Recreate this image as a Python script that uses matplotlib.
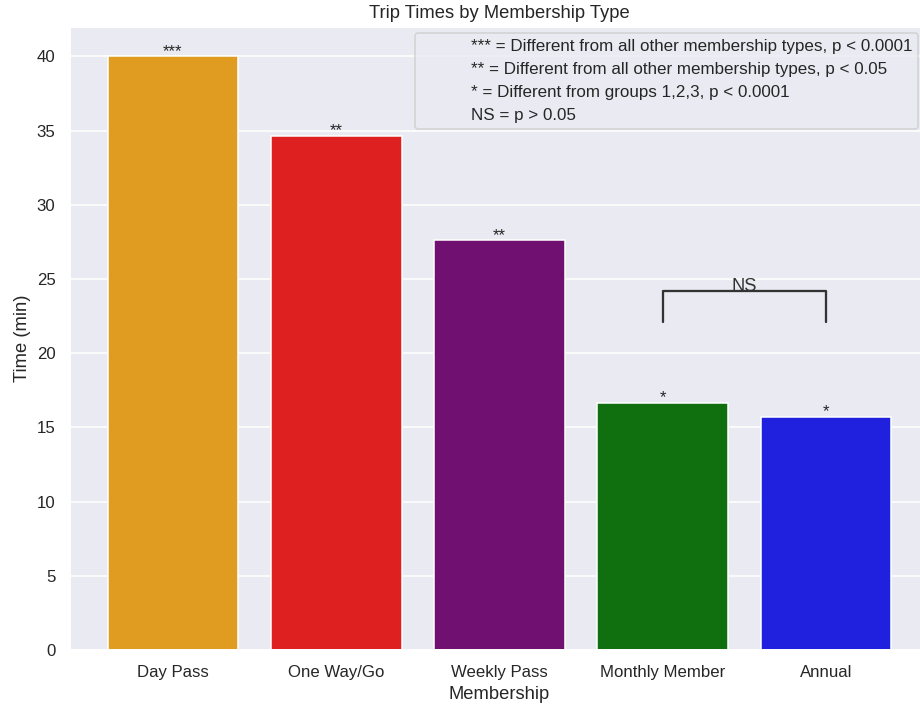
import numpy as np
import matplotlib
matplotlib.use("Agg")
import matplotlib.pyplot as plt
import seaborn as sns
from matplotlib.lines import Line2D

# data
memberships = ["Day Pass", "One Way/Go", "Weekly Pass", "Monthly Member", "Annual"]
trip_times = [40.0, 34.65, 27.6, 16.65, 15.7]
stars = ["***", "**", "**", "*", "*"]
bar_colors = ["orange", "red", "purple", "green", "blue"]
legend_labels = [
    "*** = Different from all other membership types, p < 0.0001",
    "** = Different from all other membership types, p < 0.05",
    "* = Different from groups 1,2,3, p < 0.0001",
    "NS = p > 0.05",
]
ns_pair = [3, 4]
ns_low, ns_high = 22.1, 24.2

sns.set_theme(style="darkgrid")
plt.rcParams['font.family'] = ['Liberation Sans', 'DejaVu Sans']

fig = plt.figure(figsize=(920 / 110, 704 / 110), dpi=110)
ax = fig.add_axes([70 / 920, 54 / 704, 859 / 920, 623.3 / 704])

x = np.arange(len(memberships))
colors = [sns.desaturate(c, 0.75) for c in bar_colors]
ax.bar(x, trip_times, width=0.8, color=colors, edgecolor="white", linewidth=1)

# significance stars on top of each bar
for xi, h, s in zip(x, trip_times, stars):
    ax.text(xi, h + 0.05, s, ha="center", va="baseline", fontsize=11, color=".15")

# NS bracket between monthly and annual
ax.plot([ns_pair[0], ns_pair[0], ns_pair[1], ns_pair[1]],
        [ns_low, ns_high, ns_high, ns_low], color=".2", lw=1.5)
ax.text(np.mean(ns_pair), ns_high, "NS", ha="center", va="baseline", fontsize=12, color=".2")

ax.set_xticks(x)
ax.set_xticklabels(memberships)
ax.set_xlim(-0.63, 4.63)
ax.set_ylim(0, 42)
ax.xaxis.grid(False)
ax.set_xlabel("Membership")
ax.set_ylabel("Time (min)")
ax.set_title("Trip Times by Membership Type")

handles = [Line2D([], [], linestyle="none") for _ in legend_labels]
ax.legend(handles, legend_labels, loc="upper right",
          bbox_to_anchor=(918 / 920, 1 - 33 / 704), bbox_transform=fig.transFigure,
          borderaxespad=0, labelspacing=0.48, borderpad=0.35, handlelength=2.15,
          fontsize=11.1)

fig.savefig("out.png", dpi=110)
